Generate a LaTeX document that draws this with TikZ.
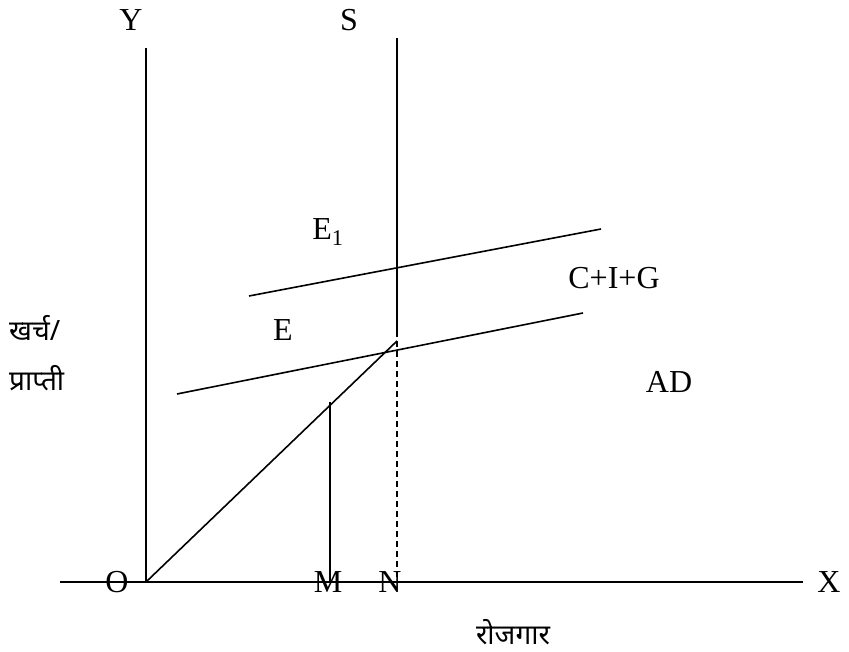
\documentclass[tikz,border=0pt]{standalone}
\usepackage{fontspec}
\setmainfont{Liberation Serif}
\newfontfamily\deva[Script=Devanagari]{Noto Sans}
\begin{document}
\begin{tikzpicture}[x=1pt,y=-1pt,
  lbl/.style={inner sep=0pt,font=\fontsize{32}{35}\selectfont},
  dlbl/.style={inner sep=0pt,font=\deva\fontsize{28}{32}\selectfont},
  ln/.style={line width=1.6pt}]
\useasboundingbox (0,0) rectangle (849,652);
% coordinates
\coordinate (O) at (146,582);
\coordinate (Xend) at (803,582);
\coordinate (Xstart) at (60,582);
\coordinate (Ytop) at (146,48);
\coordinate (Stop) at (397,38);
\coordinate (Sbot) at (397,337);
\coordinate (Sdash) at (397,341);
\coordinate (Nb) at (397,582);
\coordinate (Mt) at (330,402);
\coordinate (Mb) at (330,582);
\coordinate (U1) at (249,296);
\coordinate (U2) at (601,229);
\coordinate (L1) at (177,394);
\coordinate (L2) at (583,313);
% lines
\draw[ln] (Xstart) -- (Xend);
\draw[ln] (O) -- (Ytop);
\draw[ln] (Sbot) -- (Stop);
\draw[ln,dashed,dash pattern=on 6pt off 4pt] (Sdash) -- (Nb);
\draw[ln] (O) -- (Sdash);
\draw[ln] (Mt) -- (Mb);
\draw[ln] (U1) -- (U2);
\draw[ln] (L1) -- (L2);
% labels
\node[lbl] (lY) at (131,20) {Y};
\node[lbl] (lS) at (349,20) {S};
\node[lbl] (lE1) at (328,232) {E\textsubscript{1}};
\node[lbl] (lE) at (283,330) {E};
\node[lbl] (lCIG) at (614,278) {C+I+G};
\node[lbl] (lAD) at (669,382) {AD};
\node[lbl] (lO) at (117,582) {O};
\node[lbl] (lM) at (328,582) {M};
\node[lbl] (lN) at (390,582) {N};
\node[lbl] (lX) at (829,582) {X};
\node[dlbl] (lR) at (513,632) {रोजगार};
\node[dlbl,anchor=west] (lK) at (9,328) {खर्च/};
\node[dlbl,anchor=west] (lP) at (9,378) {प्राप्ती};
\end{tikzpicture}
\end{document}
